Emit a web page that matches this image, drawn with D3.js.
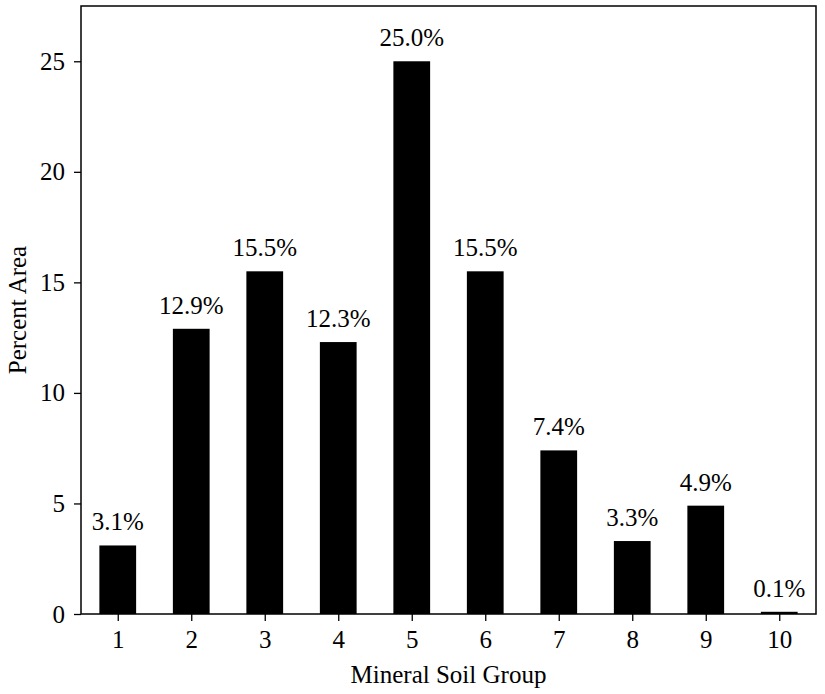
<!DOCTYPE html>
<html>
<head>
<meta charset="utf-8">
<script src="https://cdn.jsdelivr.net/npm/d3@7"></script>
<style>
  body { margin: 0; background: #fff; }
  text { font-family: "Liberation Serif", "Times New Roman", serif; fill: #000; }
</style>
</head>
<body>
<div id="chart"></div>
<script>
var groups = [1, 2, 3, 4, 5, 6, 7, 8, 9, 10];
var percent = [3.1, 12.9, 15.5, 12.3, 25.0, 15.5, 7.4, 3.3, 4.9, 0.1];
var yTicks = [0, 5, 10, 15, 20, 25];

var margin = { left: 81, right: 9, top: 6, bottom: 80 };
var width = 825 - margin.left - margin.right,
    height = 694 - margin.top - margin.bottom;
var fs = "25px";

var svg = d3.select("#chart")
    .append("svg")
    .attr("width", 825)
    .attr("height", 694)
    .append("g")
    .attr("transform", "translate(" + margin.left + "," + margin.top + ")");

var x = d3.scaleLinear()
    .domain([0.5, 10.5])
    .range([0, width]);

var y = d3.scaleLinear()
    .domain([0, 27.5])
    .range([height, 0]);

var barW = (x(2) - x(1)) * 0.5;

svg.selectAll(".bar")
    .data(percent)
    .enter()
    .append("rect")
    .attr("class", "bar")
    .attr("fill", "#000")
    .attr("x", function(d, i) { return x(groups[i]) - barW / 2; })
    .attr("width", barW)
    .attr("y", function(d) { return y(d); })
    .attr("height", function(d) { return height - y(d); });

svg.selectAll(".lbl")
    .data(percent)
    .enter()
    .append("text")
    .attr("class", "lbl")
    .attr("text-anchor", "middle")
    .attr("font-size", fs)
    .attr("x", function(d, i) { return x(groups[i]); })
    .attr("y", function(d) { return y(d) - 15; })
    .text(function(d) { return d.toFixed(1) + "%"; });

var xAxis = svg.append("g")
    .attr("transform", "translate(0," + height + ")")
    .call(d3.axisBottom(x).tickValues(groups).tickFormat(d3.format("d")).tickSize(7).tickPadding(9));

var yAxis = svg.append("g")
    .call(d3.axisLeft(y).tickValues(yTicks).tickSize(7).tickPadding(9));

[xAxis, yAxis].forEach(function(a) {
    a.attr("font-family", null);
    a.select(".domain").remove();
    a.selectAll("line").attr("stroke", "#000").attr("stroke-width", 1.3);
    a.selectAll("text").attr("font-size", fs);
});

svg.append("rect")
    .attr("width", width)
    .attr("height", height)
    .attr("fill", "none")
    .attr("stroke", "#000")
    .attr("stroke-width", 1.5);

svg.append("text")
    .attr("text-anchor", "middle")
    .attr("font-size", fs)
    .attr("x", width / 2)
    .attr("y", height + 69)
    .text("Mineral Soil Group");

svg.append("text")
    .attr("text-anchor", "middle")
    .attr("font-size", fs)
    .attr("transform", "translate(-55," + (height / 2) + ") rotate(-90)")
    .text("Percent Area");
</script>
</body>
</html>
